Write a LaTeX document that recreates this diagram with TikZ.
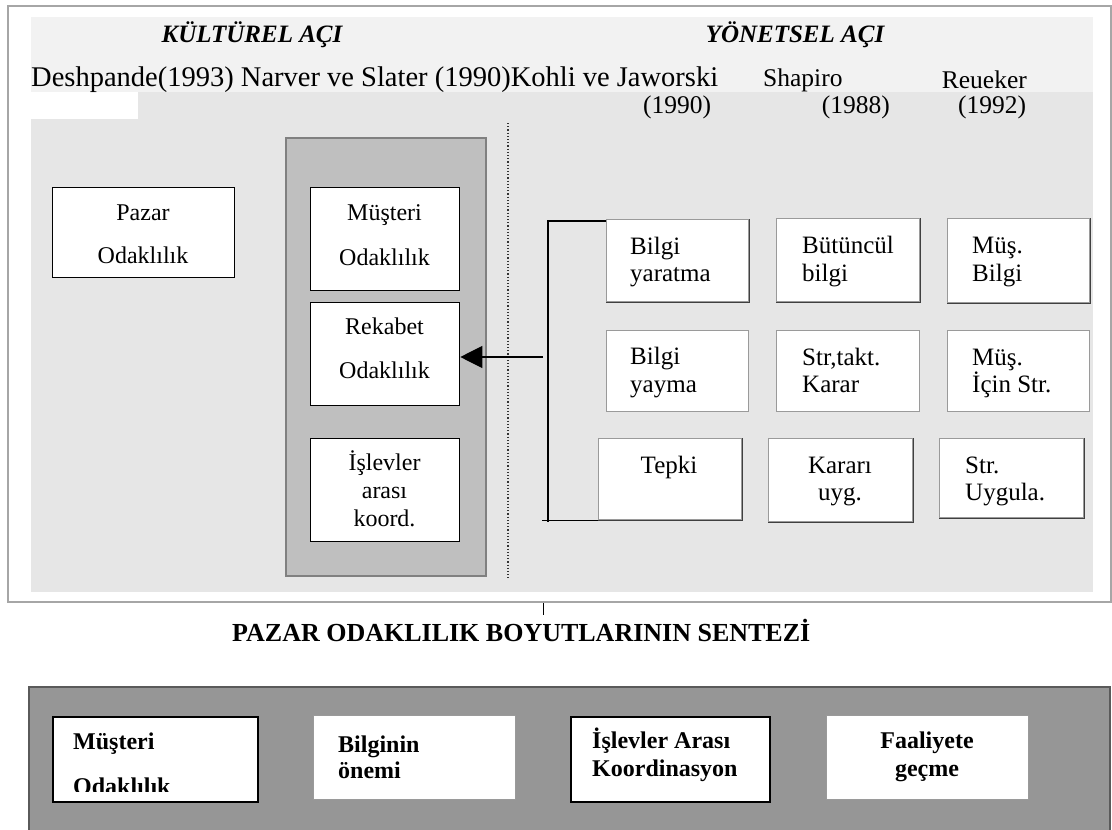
\documentclass[tikz,border=0pt]{standalone}
\usepackage{fontspec}
\setmainfont{Liberation Serif}
\usetikzlibrary{arrows.meta}
\definecolor{framec}{HTML}{A6A6A6}
\definecolor{bandc}{HTML}{F2F2F2}
\definecolor{areac}{HTML}{E6E6E6}
\definecolor{colc}{HTML}{BFBFBF}
\definecolor{colb}{HTML}{808080}
\definecolor{lowc}{HTML}{969696}
\definecolor{lowb}{HTML}{5A5A5A}
\definecolor{rboxb}{HTML}{9A9A9A}
\definecolor{rboxd}{HTML}{404040}
\begin{document}
\begin{tikzpicture}[x=1pt,y=-1pt,
  box/.style={draw=black, line width=1.3pt, fill=white, inner sep=0pt, anchor=north west},
  rbox/.style={draw=rboxb, line width=1.2pt, fill=white, inner sep=0pt, anchor=north west},
  lbbox/.style={draw=black, line width=2pt, fill=white, inner sep=0pt, anchor=north west},
  lgbox/.style={draw=rboxb, line width=1.2pt, fill=white, inner sep=0pt, anchor=north west},
  hd/.style={inner sep=0pt, anchor=base, font=\fontsize{25}{27}\selectfont\bfseries\itshape},
  au/.style={inner sep=0pt, anchor=base west, font=\fontsize{28.5}{30}\selectfont},
  aus/.style={inner sep=0pt, anchor=base west, font=\fontsize{25.5}{27}\selectfont},
  tc/.style={inner sep=0pt, anchor=base, font=\fontsize{24}{26}\selectfont},
  tl/.style={inner sep=0pt, anchor=base west, font=\fontsize{25}{27}\selectfont},
  tr/.style={inner sep=0pt, anchor=base, font=\fontsize{25}{27}\selectfont},
  bl/.style={inner sep=0pt, anchor=base west, font=\fontsize{24}{26}\selectfont\bfseries},
  bc/.style={inner sep=0pt, anchor=base, font=\fontsize{24}{26}\selectfont\bfseries},
  conn/.style={draw=black, line width=1.2pt}
]
\useasboundingbox (0,0) rectangle (1112,830);
\fill[white] (0,0) rectangle (1112,830);
% upper panel backgrounds
\fill[areac] (31,92) rectangle (1093,592);
\fill[bandc] (31,16.7) rectangle (1093,92);
\fill[white] (31,92) rectangle (137.5,119);
\draw[framec, line width=2pt] (7.5,6) rectangle (1111,602);
% headers
\node[hd] (hk) at (252,42.7) {KÜLTÜREL AÇI};
\node[hd] (hy) at (795,42.7) {YÖNETSEL AÇI};
\node[au] (a1) at (31,86) {Deshpande(1993) Narver ve Slater (1990)Kohli ve Jaworski};
\node[aus] (a2) at (763,86) {Shapiro};
\node[aus] (a3) at (941.7,88.3) {Reueker};
\node[aus] (y1) at (643,113) {(1990)};
\node[aus] (y2) at (821.7,113) {(1988)};
\node[aus] (y3) at (958,113) {(1992)};
% dotted divider
\coordinate (dvt) at (508,123);
\coordinate (dvb) at (508,578);
\draw[dotted, line width=1.2pt, black!80] (dvt) -- (dvb);
% cultural column
\node[draw=colb, line width=1.5pt, fill=colc, inner sep=0pt, anchor=north west,
  minimum width=200pt, minimum height=438pt] (col) at (285,137) {};
\node[box, minimum width=182pt, minimum height=90pt] (pazar) at (52,187) {};
\node[box, minimum width=149pt, minimum height=103pt] (mus) at (310,187) {};
\node[box, minimum width=149pt, minimum height=103pt] (rek) at (310,302) {};
\node[box, minimum width=149pt, minimum height=103pt] (isl) at (310,438) {};
\node[tc] (t1) at (143,220) {Pazar};
\node[tc] (t2) at (143,263) {Odaklılık};
\node[tc] (t3) at (384.5,220) {Müşteri};
\node[tc] (t4) at (384.5,265) {Odaklılık};
\node[tc] (t5) at (384.5,334) {Rekabet};
\node[tc] (t6) at (384.5,378) {Odaklılık};
\node[tc] (t7) at (384.5,470) {İşlevler};
\node[tc] (t8) at (384.5,498) {arası};
\node[tc] (t9) at (384.5,526) {koord.};
% managerial boxes
\node[rbox, minimum width=142pt, minimum height=82pt] (bya) at (606,219) {};
\node[rbox, minimum width=143pt, minimum height=83pt] (bbu) at (776,218) {};
\node[rbox, minimum width=142pt, minimum height=84pt] (bmb) at (947,218) {};
\node[rbox, minimum width=142pt, minimum height=81pt] (bby) at (606,330) {};
\node[rbox, minimum width=143pt, minimum height=81pt] (bst) at (776,330) {};
\node[rbox, minimum width=142pt, minimum height=81pt] (bmi) at (947,330) {};
\node[rbox, minimum width=143pt, minimum height=81pt] (tep) at (598,438) {};
\node[rbox, minimum width=144pt, minimum height=83pt] (kar) at (768,438) {};
\node[rbox, minimum width=144pt, minimum height=79pt] (stu) at (939,438) {};
\foreach \n in {bya,bbu,bmb,tep,kar,stu}{
  \draw[rboxd, line width=1.2pt] (\n.south west) -- (\n.south east) -- (\n.north east);
}
\node[tl] (r1) at (630,254) {Bilgi};
\node[tl] (r2) at (630,281) {yaratma};
\node[tl] (r3) at (802,253) {Bütüncül};
\node[tl] (r4) at (802,281) {bilgi};
\node[tl] (r5) at (972,253) {Müş.};
\node[tl] (r6) at (972,281) {Bilgi};
\node[tl] (r7) at (630,364) {Bilgi};
\node[tl] (r8) at (630,392) {yayma};
\node[tl] (r9) at (802,365) {Str,takt.};
\node[tl] (r10) at (802,392) {Karar};
\node[tl] (r11) at (972,365) {Müş.};
\node[tl] (r12) at (972,392) {İçin Str.};
\node[tr] (r13) at (669,473) {Tepki};
\node[tr] (r14) at (840,473) {Kararı};
\node[tr] (r15) at (840,500) {uyg.};
\node[tl] (r16) at (965,473) {Str.};
\node[tl] (r17) at (965,500) {Uygula.};
% bracket and arrow
\coordinate (brt) at (548,221);
\coordinate (brb) at (548,522);
\coordinate (brbl) at (542,520.5);
\coordinate (arrs) at (543,357);
\draw[conn] (bya.north west |- brt) -- (brt) -- (brb);
\draw[conn] (brbl) -- (brbl -| tep.south west);
\draw[conn, -{Triangle[length=22pt,width=22pt]}] (arrs) -- (arrs -| rek.east);
% small tick below frame
\coordinate (tk1) at (543,603);
\coordinate (tk2) at (543,615);
\draw[black, line width=1pt] (tk1) -- (tk2);
% synthesis
\node[inner sep=0pt, anchor=base west, font=\fontsize{26}{28}\selectfont\bfseries] (title) at (232,641) {PAZAR ODAKLILIK BOYUTLARININ SENTEZİ};
\fill[lowc] (29,687) rectangle (1110,840);
\draw[lowb, line width=1.5pt] (29,840) -- (29,687) -- (1110,687) -- (1110,840);
\node[lbbox, minimum width=205pt, minimum height=85pt] (lm) at (52,716) {};
\node[lgbox, minimum width=202pt, minimum height=84pt] (lb) at (313,715) {};
\node[lbbox, minimum width=199pt, minimum height=85pt] (li) at (570,716) {};
\node[lgbox, minimum width=202pt, minimum height=84pt] (lf) at (826,715) {};
\node[bl] (s1) at (73,749) {Müşteri};
\begin{scope}
  \clip (53,717) rectangle (256,791.7);
  \node[bl] (s2) at (73,794.5) {Odaklılık};
\end{scope}
\node[bl] (s3) at (338,752) {Bilginin};
\node[bl] (s4) at (338,778) {önemi};
\node[bl] (s5) at (592,748) {İşlevler Arası};
\node[bl] (s6) at (592,776) {Koordinasyon};
\node[bc] (s7) at (927,748) {Faaliyete};
\node[bc] (s8) at (927,776) {geçme};
\end{tikzpicture}
\end{document}
